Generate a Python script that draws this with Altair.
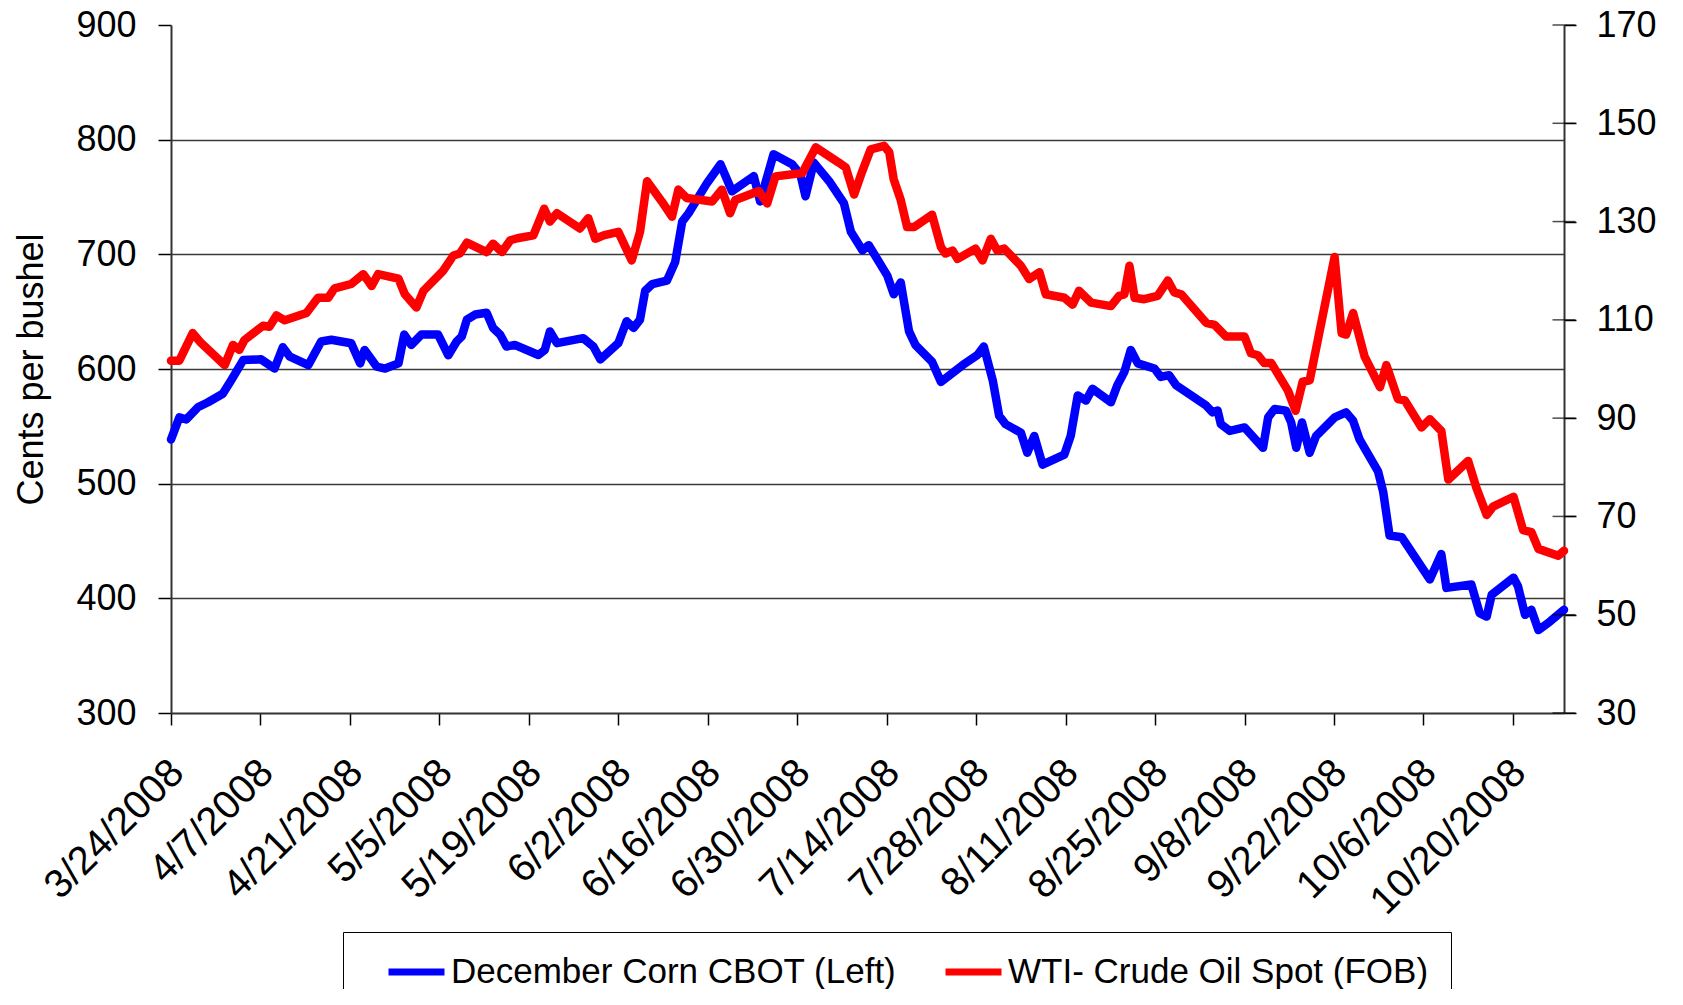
import json
import pandas as pd
import altair as alt

CORN = "December Corn CBOT (Left)"
OIL = "WTI- Crude Oil Spot (FOB)"

# x tick labels (one every 14 days from 3/24/2008)
tick_labels = ["3/24/2008", "4/7/2008", "4/21/2008", "5/5/2008", "5/19/2008",
               "6/2/2008", "6/16/2008", "6/30/2008", "7/14/2008", "7/28/2008",
               "8/11/2008", "8/25/2008", "9/8/2008", "9/22/2008", "10/6/2008",
               "10/20/2008"]
axis_end_day = 218  # 10/28/2008, days since 3/24/2008

# December corn, cents per bushel (left axis); x = days since 3/24/2008
corn_days = [0, 1.3, 2.4, 4.2, 5.8, 8.1, 9.4, 11.3, 14.1, 16.2,
             17.5, 18.6, 21.5, 23.5, 25.1, 28.2, 29.6, 30.3, 32.2, 33.5,
             35.6, 36.5, 37.6, 39.2, 41.8, 43.4, 44.7, 45.5, 46.3, 47.6,
             49.4, 50.4, 51.5, 52.5, 53.8, 57.5, 58.5, 59.3, 60.4, 64.5,
             66.1, 67.2, 70.0, 71.3, 72.4, 73.4, 74.2, 75.3, 77.6, 78.9,
             80.0, 81.0, 83.9, 86.0, 87.8, 91.2, 92.2, 94.3, 97.2, 98.5,
             99.3, 100.6, 103.0, 105.3, 106.4, 108.2, 109.2, 112.1, 113.1, 114.2,
             115.5, 116.5, 119.1, 120.5, 123.9, 126.2, 127.2, 128.6, 129.6, 130.6,
             133.0, 134.0, 135.1, 136.4, 139.8, 140.8, 141.9, 143.2, 144.2, 147.1,
             148.1, 149.2, 150.2, 151.3, 153.9, 154.9, 156.2, 157.3, 162.0, 163.0,
             163.8, 164.3, 165.7, 168.0, 170.9, 171.7, 172.7, 174.5, 175.3, 176.1,
             177.0, 178.2, 179.2, 182.1, 183.9, 185.0, 186.0, 188.9, 189.7, 190.7,
             192.6, 197.0, 198.8, 199.6, 203.5, 204.8, 205.9, 206.7, 210.1, 210.8,
             211.9, 212.9, 214.0, 215.8, 218.0]
corn_cents = [538.6, 557.8, 556.0, 566.6, 571.0, 578.4, 590.0, 607.8, 608.4, 600.4,
              619.0, 610.7, 603.4, 624.0, 625.5, 622.5, 604.9, 616.6, 602.0, 600.4,
              604.9, 630.0, 621.0, 630.0, 630.0, 612.0, 624.0, 628.4, 643.0, 647.5,
              649.0, 635.8, 630.0, 619.6, 621.0, 612.2, 616.6, 632.8, 622.5, 626.9,
              619.6, 608.4, 622.5, 641.6, 635.8, 643.1, 668.1, 674.0, 677.0, 693.2,
              728.5, 735.8, 762.3, 778.5, 755.0, 768.2, 746.1, 787.3, 778.5, 769.7,
              750.6, 780.0, 763.8, 744.7, 719.6, 703.5, 708.0, 681.4, 665.2, 675.5,
              632.8, 621.0, 606.3, 588.7, 603.4, 612.2, 619.6, 590.1, 559.2, 551.9,
              544.5, 526.9, 541.6, 516.6, 525.4, 541.6, 576.9, 572.5, 582.8, 571.0,
              585.8, 597.5, 616.6, 604.9, 600.4, 593.1, 594.6, 585.8, 568.1, 562.2,
              563.7, 551.9, 546.0, 549.0, 531.3, 557.8, 565.1, 563.7, 553.4, 531.3,
              553.4, 526.9, 541.6, 557.8, 562.2, 554.8, 538.6, 510.7, 493.0, 454.8,
              453.3, 416.5, 438.6, 409.1, 412.1, 387.1, 384.1, 403.3, 418.0, 410.6,
              385.6, 390.0, 372.3, 379.7, 390.0]

# WTI crude oil spot, $ per barrel (right axis)
oil_days = [0, 1.3, 3.4, 4.7, 8.4, 9.7, 10.7, 11.5, 14.4, 15.4,
            16.5, 17.8, 21.2, 23.0, 24.6, 25.6, 28.2, 30.1, 31.4, 32.4,
            35.6, 36.6, 38.4, 39.5, 42.6, 44.2, 45.2, 46.3, 49.4, 50.4,
            51.8, 53.1, 54.2, 56.7, 58.4, 59.3, 60.4, 64.0, 65.3, 66.4,
            67.7, 70.0, 72.1, 73.4, 74.5, 76.8, 78.4, 79.4, 80.7, 84.7,
            86.2, 87.5, 88.3, 92.0, 93.3, 94.6, 98.8, 100.9, 104.5, 105.6,
            106.9, 108.2, 109.5, 111.6, 112.4, 113.1, 114.2, 115.2, 116.3, 119.1,
            120.5, 121.2, 122.3, 123.1, 125.9, 127.0, 128.3, 129.3, 130.4, 133.0,
            134.3, 135.9, 136.9, 139.8, 141.1, 142.1, 144.0, 147.1, 148.4, 149.2,
            150.0, 150.8, 152.3, 154.4, 156.0, 157.0, 158.1, 162.0, 163.3, 165.1,
            168.0, 169.0, 170.1, 171.1, 172.2, 174.8, 176.0, 177.1, 178.2, 182.1,
            183.2, 183.9, 185.0, 186.8, 189.2, 190.2, 192.0, 193.1, 195.7, 197.0,
            198.8, 199.9, 203.0, 204.3, 205.9, 206.9, 210.1, 211.6, 212.9, 214.0,
            217.1, 218.0]
oil_usd = [101.7, 101.7, 107.3, 105.3, 100.8, 104.9, 103.9, 105.9, 108.8, 108.6,
           110.9, 109.9, 111.4, 114.5, 114.5, 116.4, 117.3, 119.3, 116.9, 119.3,
           118.4, 115.2, 112.5, 115.9, 120.0, 123.1, 123.5, 125.7, 123.8, 125.5,
           123.8, 126.2, 126.6, 127.2, 132.6, 130.0, 131.7, 128.6, 130.7, 126.5,
           127.2, 127.9, 122.1, 127.9, 138.2, 134.1, 131.0, 136.5, 134.8, 134.1,
           136.5, 131.7, 134.4, 136.2, 133.7, 139.2, 139.9, 145.1, 142.0, 141.0,
           135.5, 140.3, 144.7, 145.4, 144.1, 138.6, 134.4, 128.9, 128.9, 131.4,
           124.8, 123.5, 124.1, 122.4, 124.5, 122.1, 126.5, 124.1, 124.5, 121.0,
           118.3, 119.7, 115.2, 114.5, 113.1, 115.9, 113.5, 112.8, 114.9, 115.2,
           121.0, 114.5, 114.2, 114.9, 118.0, 115.6, 115.2, 109.4, 109.0, 106.6,
           106.6, 103.2, 102.8, 101.2, 101.2, 95.6, 91.5, 97.4, 97.7, 122.8,
           107.3, 107.0, 111.4, 102.5, 96.3, 100.8, 93.9, 93.6, 88.1, 89.8,
           87.4, 77.5, 81.3, 75.8, 70.3, 72.0, 74.0, 67.2, 66.8, 63.4,
           62.0, 63.0]

left_ticks = [300, 400, 500, 600, 700, 800, 900]
right_ticks = [30, 50, 70, 90, 110, 130, 150, 170]

corn_df = pd.DataFrame({"day": corn_days, "value": corn_cents, "series": CORN})
oil_df = pd.DataFrame({"day": oil_days, "value": oil_usd, "series": OIL})
rtick_df = pd.DataFrame({"day": [axis_end_day] * len(right_ticks), "value": right_ticks})

FONT = "Liberation Sans"
tick_days = [14 * i for i in range(len(tick_labels))]

x_enc = alt.X(
    "day:Q",
    scale=alt.Scale(domain=[0, axis_end_day], nice=False, zero=False),
    axis=alt.Axis(
        values=tick_days,
        labelExpr=json.dumps(tick_labels) + "[round(datum.value / 14)]",
        labelAngle=315, labelAlign="right", labelBaseline="middle",
        labelFontSize=40, labelPadding=41, labelOffset=6, labelOverlap=False,
        labelLimit=600,
        tickSize=12, tickWidth=1.5, tickColor="black",
        domainColor="#333333", domainWidth=2, grid=False, title=None,
    ),
)

legend = alt.Legend(
    orient="none", legendX=172, legendY=907, direction="horizontal", title=None,
    symbolType="stroke", symbolSize=3136, symbolStrokeWidth=7, symbolOffset=20,
    labelFontSize=35, labelFont=FONT, labelColor="black", labelOffset=3,
    labelLimit=1000, columnPadding=25, padding=22, clipHeight=36,
    strokeColor="black", fillColor="white",
)

color_enc = alt.Color(
    "series:N",
    scale=alt.Scale(domain=[CORN, OIL], range=["#0000FF", "#FF0000"]),
    legend=legend,
)

corn_line = alt.Chart(corn_df).mark_line(
    strokeWidth=8.5, strokeCap="round", strokeJoin="round"
).encode(
    x=x_enc,
    y=alt.Y(
        "value:Q",
        scale=alt.Scale(domain=[300, 900], nice=False, zero=False),
        axis=alt.Axis(
            orient="left", values=left_ticks, title="Cents per bushel",
            titleFontSize=36, titleAngle=270, titleAlign="center",
            titleBaseline="middle", titleX=-140, titleY=344,
            labelFontSize=36, labelPadding=22, tickSize=13, tickWidth=1.5,
            tickColor="black", domainColor="#333333", domainWidth=2,
            grid=True, gridWidth=1.6,
            gridColor={"condition": {"test": "datum.value >= 900 || datum.value <= 300",
                                     "value": "rgba(0,0,0,0)"},
                       "value": "#3a3a3a"},
        ),
    ),
    color=color_enc,
)

oil_line = alt.Chart(oil_df).mark_line(
    strokeWidth=8.5, strokeCap="round", strokeJoin="round"
).encode(
    x=x_enc,
    y=alt.Y(
        "value:Q",
        scale=alt.Scale(domain=[30, 170], nice=False, zero=False),
        axis=alt.Axis(
            orient="right", values=right_ticks, title=None,
            labelFontSize=36, labelPadding=20, tickSize=12, tickWidth=1.5,
            tickColor="black", domainColor="#333333", domainWidth=2, grid=False,
        ),
    ),
    color=color_enc,
)

# right-axis tick marks cross the axis line (inner half)
right_cross = alt.Chart(rtick_df).mark_tick(
    orient="horizontal", size=23, thickness=1.5, color="black"
).encode(
    x=x_enc,
    y=alt.Y("value:Q", scale=alt.Scale(domain=[30, 170], nice=False, zero=False),
            axis=None),
)

chart = alt.layer(corn_line, oil_line, right_cross).resolve_scale(
    y="independent"
).properties(
    width=1393, height=688,
    autosize=alt.AutoSizeParams(type="none"),
    padding={"left": 163, "top": 17, "right": 96, "bottom": 276},
    background="white",
).configure_view(
    stroke=None
).configure_axis(
    labelFont=FONT, titleFont=FONT, labelColor="black", titleColor="black",
    titleFontWeight="normal",
)

chart.save("out.html", embed_options={"renderer": "svg", "actions": False})
